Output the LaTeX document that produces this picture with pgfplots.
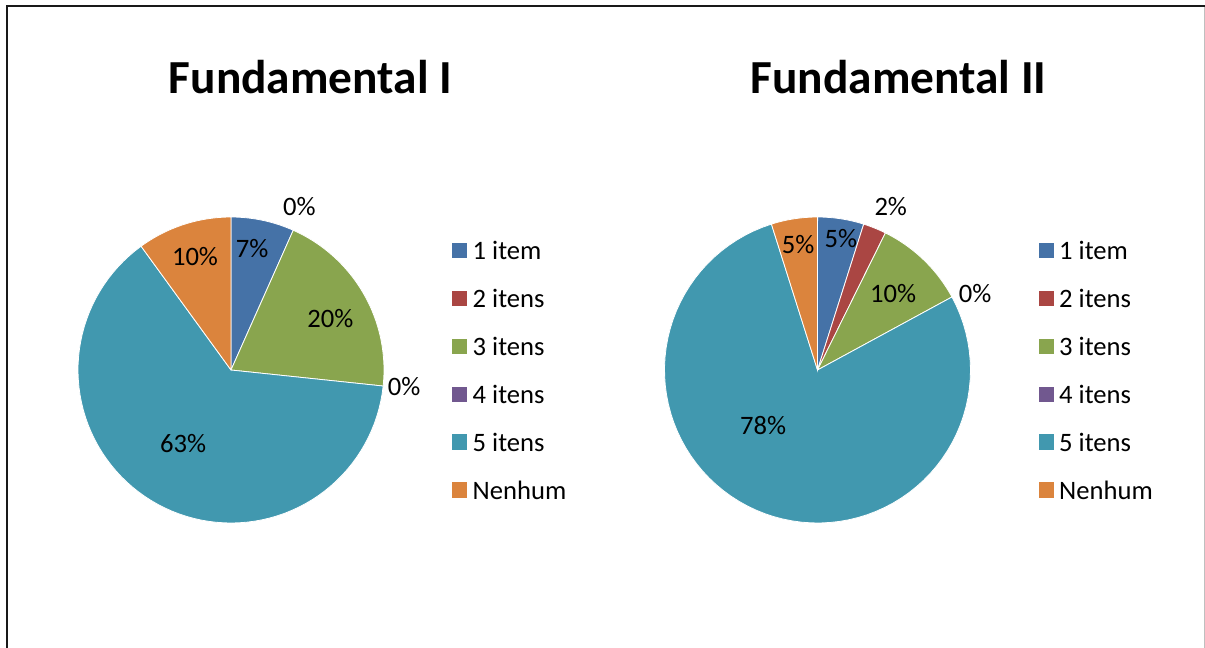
\documentclass[border=0pt]{standalone}
\usepackage{fontspec}
\setmainfont{Carlito}
\usepackage{pgfplots}
\pgfplotsset{compat=1.18}
\usepgfplotslibrary{polar}

\definecolor{c1}{HTML}{4572A7}
\definecolor{c2}{HTML}{AA4643}
\definecolor{c3}{HTML}{89A54E}
\definecolor{c4}{HTML}{71588F}
\definecolor{c5}{HTML}{4198AF}
\definecolor{c6}{HTML}{DB843D}

\newcommand\lab{\fontsize{13.3}{16}\selectfont}

% one wedge: colour, share in %; starts at 12 o'clock, runs clockwise
\newcommand\slice[2]{%
  \pgfmathsetmacro\sa{90-3.6*(\cum+#2)}%
  \pgfmathsetmacro\sb{90-3.6*\cum}%
  \ifdim #2pt>0pt
    \edef\tmp{\noexpand\addplot[fill=#1, draw=white, line width=0.4pt,
      domain=\sa:\sb, samples=80, forget plot] {1} -- (axis cs:0,0) -- cycle;}%
    \tmp
  \fi
  \pgfmathsetmacro\newcum{\cum+#2}\xdef\cum{\newcum}}

\pgfplotsset{pie/.style={
  anchor=origin, scale only axis, width=153pt, height=153pt,
  hide axis, clip=false, ymin=0, ymax=1,
  legend style={at={(1.221,0.917)}, anchor=north west, draw=none, fill=none,
    inner sep=0pt, row sep=15.45pt, font=\lab,
    nodes={inner sep=0pt, text height=8.4pt, text depth=0pt},
    /tikz/column sep=2.75pt},
  legend cell align=left,
  legend image code/.code={\fill[##1, draw=none] (0pt,-3.3pt) rectangle (7.6pt,4.3pt);},
  legend entries={1 item, 2 itens, 3 itens, 4 itens, 5 itens, Nenhum},
}}

\begin{document}
\begin{tikzpicture}
\useasboundingbox (0,0) rectangle (602.5pt,-324pt);
\draw[line width=1.1pt, black!90] (3.6pt,-340pt) -- (3.6pt,-3.1pt) -- (610pt,-3.1pt);
\draw[line width=0.5pt, black!25] (602pt,-3.6pt) -- (602pt,-340pt);

\node[font=\fontsize{23.7}{28}\selectfont\bfseries, anchor=base] at (155.25pt,-46.5pt) {Fundamental I};
\node[font=\fontsize{23.7}{28}\selectfont\bfseries, anchor=base] at (449.25pt,-46.5pt) {Fundamental II};

\begin{polaraxis}[pie, at={(115.5pt,-185pt)}]
\gdef\cum{0}
\slice{c1}{6.67}
\slice{c2}{0}
\slice{c3}{20}
\slice{c4}{0}
\slice{c5}{63.33}
\slice{c6}{10}
\addlegendimage{fill=c1}
\addlegendimage{fill=c2}
\addlegendimage{fill=c3}
\addlegendimage{fill=c4}
\addlegendimage{fill=c5}
\addlegendimage{fill=c6}
\node[font=\lab] at (axis cs:80.2,0.807) {7\%};
\node[font=\lab] at (axis cs:67.3,1.159) {0\%};
\node[font=\lab] at (axis cs:27.4,0.732) {20\%};
\node[font=\lab] at (axis cs:-5.4,1.136) {0\%};
\node[font=\lab] at (axis cs:-123.1,0.572) {63\%};
\node[font=\lab] at (axis cs:107.6,0.778) {10\%};
\end{polaraxis}

\begin{polaraxis}[pie, at={(408.75pt,-185pt)}]
\gdef\cum{0}
\slice{c1}{4.88}
\slice{c2}{2.44}
\slice{c3}{9.76}
\slice{c4}{0}
\slice{c5}{78.05}
\slice{c6}{4.88}
\addlegendimage{fill=c1}
\addlegendimage{fill=c2}
\addlegendimage{fill=c3}
\addlegendimage{fill=c4}
\addlegendimage{fill=c5}
\addlegendimage{fill=c6}
\node[font=\lab] at (axis cs:79.9,0.87) {5\%};
\node[font=\lab] at (axis cs:65.8,1.168) {2\%};
\node[font=\lab] at (axis cs:45.4,0.705) {10\%};
\node[font=\lab] at (axis cs:25.8,1.144) {0\%};
\node[font=\lab] at (axis cs:-134.2,0.51) {78\%};
\node[font=\lab] at (axis cs:98.8,0.83) {5\%};
\end{polaraxis}
\end{tikzpicture}
\end{document}
